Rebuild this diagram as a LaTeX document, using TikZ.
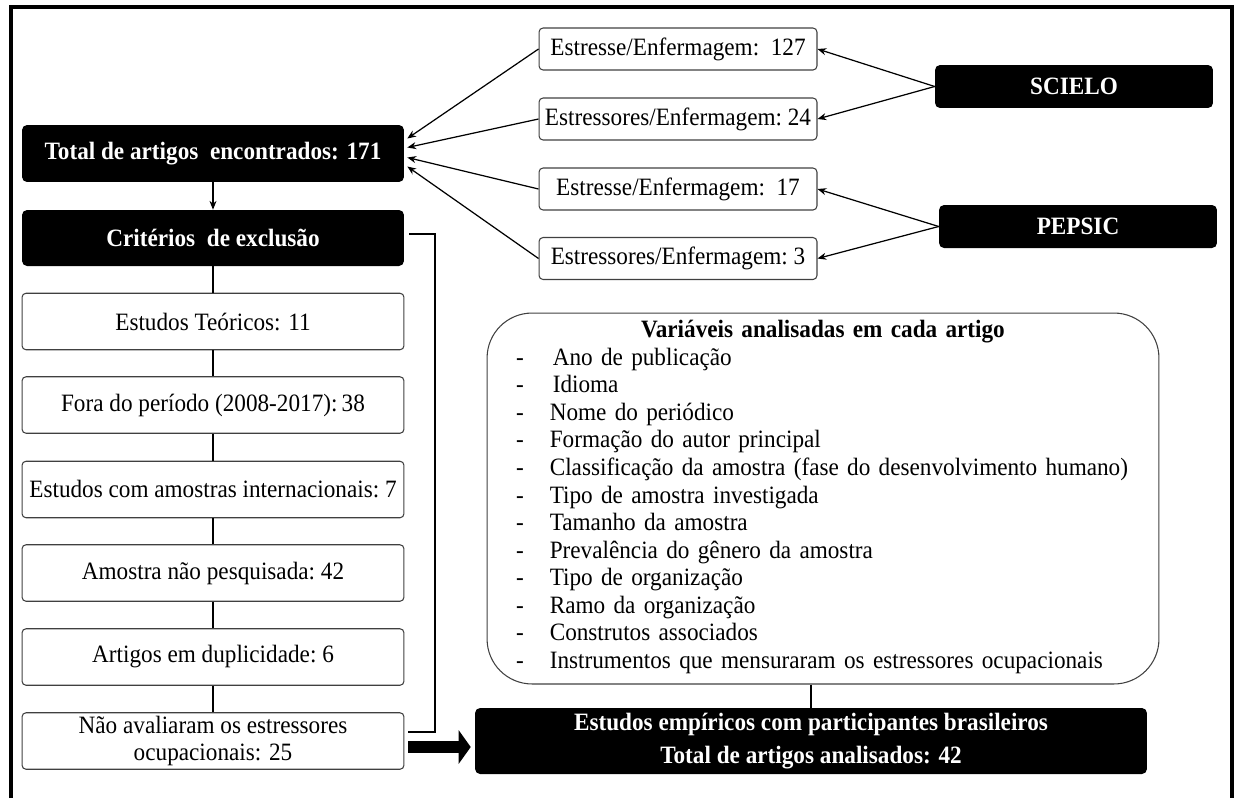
\documentclass[tikz,border=0pt]{standalone}
\usepackage{fontspec}
\setmainfont[FakeStretch=0.93]{Liberation Serif}
\usepackage{tikz}
\usetikzlibrary{arrows.meta,calc}

\begin{document}
\begin{tikzpicture}[x=0.02cm,y=-0.02cm,
    font=\fontsize{14.2}{15.7}\selectfont,
    darkbox/.style={fill=black,text=white,font=\fontsize{14.2}{15.7}\selectfont\bfseries,
      rounded corners=0.1cm,inner sep=0pt},
    wbox/.style={draw=black!75,line width=0.6pt,rounded corners=0.08cm,inner sep=0pt},
    exbox/.style={wbox,minimum width=7.64cm,minimum height=1.13cm},
    srcbox/.style={wbox,minimum width=5.56cm,minimum height=0.84cm},
    conn/.style={line width=0.7pt},
    tip/.style={-{Stealth[length=5pt,width=4pt]}}]
    \useasboundingbox (0,0) rectangle (1236,798);
    \draw[line width=1.8pt] (11,798) -- (11,7) -- (1232,7) -- (1232,798); % frame

    % left column
    \node[darkbox,minimum width=7.64cm,minimum height=1.14cm] (total) at (213,153.5) {Total de artigos\ \ encontrados: 171};
    \node[darkbox,minimum width=7.64cm,minimum height=1.12cm] (crit) at (213,238) {Critérios\ \ de exclusão};
    \node[exbox] (teo) at (213,321.5) {Estudos Teóricos: 11};
    \node[exbox] (fora) at (213,405) {Fora do período (2008-2017):\,38};
    \node[exbox] (intl) at (213,489.5) {Estudos com amostras internacionais:\ 7};
    \node[exbox] (amostra) at (213,573) {Amostra não pesquisada:\ 42};
    \node[exbox] (dupl) at (213,657) {Artigos em duplicidade:\ 6};
    \node[exbox,align=center] (naoav) at (213,741) {Não avaliaram os estressores\\ocupacionais: 25};

    % searches
    \node[srcbox] (b1) at (678,49) {Estresse/Enfermagem:\ \ 127};
    \node[srcbox] (b2) at (678,119) {Estressores/Enfermagem:\ 24};
    \node[srcbox] (b3) at (678,189) {Estresse/Enfermagem:\ \ 17};
    \node[srcbox] (b4) at (678,258.5) {Estressores/Enfermagem:\ 3};

    % databases
    \node[darkbox,minimum width=5.56cm,minimum height=0.86cm] (scielo) at (1074,86.5) {SCIELO};
    \node[darkbox,minimum width=5.56cm,minimum height=0.86cm] (pepsic) at (1078,226.5) {PEPSIC};

    % variables
    \node[wbox,rounded corners=0.9cm,minimum width=13.44cm,minimum height=7.42cm,text width=12.44cm] (vars) at (823,498.5) {%
      \centerline{\bfseries Variáveis analisadas em cada artigo}\par
      \begin{tabular}[t]{@{\hspace{0.08cm}}l@{\hspace{0.52cm}}l@{}}
        - & \hspace{0.06cm}Ano de publicação\\
        - & \hspace{0.06cm}Idioma\\
        - & Nome do periódico\\
        - & Formação do autor principal\\
        - & Classificação da amostra (fase do desenvolvimento humano)\\
        - & Tipo de amostra investigada\\
        - & Tamanho da amostra\\
        - & Prevalência do gênero da amostra\\
        - & Tipo de organização\\
        - & Ramo da organização\\
        - & Construtos associados\\
        - & Instrumentos que mensuraram os estressores ocupacionais
      \end{tabular}};
    \node[darkbox,minimum width=13.44cm,minimum height=1.32cm,align=center] (final) at (811,741)
      {Estudos empíricos com participantes brasileiros\\[0.1cm]Total de artigos analisados: 42};

    % connectors
    \draw[conn,tip] (total) -- (crit);
    \foreach \a/\b in {crit/teo,teo/fora,fora/intl,intl/amostra,amostra/dupl,dupl/naoav}
      \draw[conn] (\a) -- (\b);
    \draw[line width=1pt] ($(crit.east)+(5,-4)$) -- ++(26,0) |- ($(naoav.east)+(4,-9)$); % bracket
    \draw[line width=0.24cm,-{Triangle[length=0.24cm,width=0.66cm]}] ($(naoav.east)+(4,6)$) -- ($(final.west)+(-4,6)$);
    \foreach \b/\dy in {b1/-15,b2/-6,b3/4,b4/13}
      \draw[conn,tip] (\b.west) -- ($(total.east)+(3,\dy)$);
    \draw[conn,tip] (scielo.west) -- (b1.east);
    \draw[conn,tip] (scielo.west) -- (b2.east);
    \draw[conn,tip] (pepsic.west) -- (b3.east);
    \draw[conn,tip] (pepsic.west) -- (b4.east);
    \draw[conn] (vars.south -| final.north) -- (final.north);
\end{tikzpicture}
\end{document}
